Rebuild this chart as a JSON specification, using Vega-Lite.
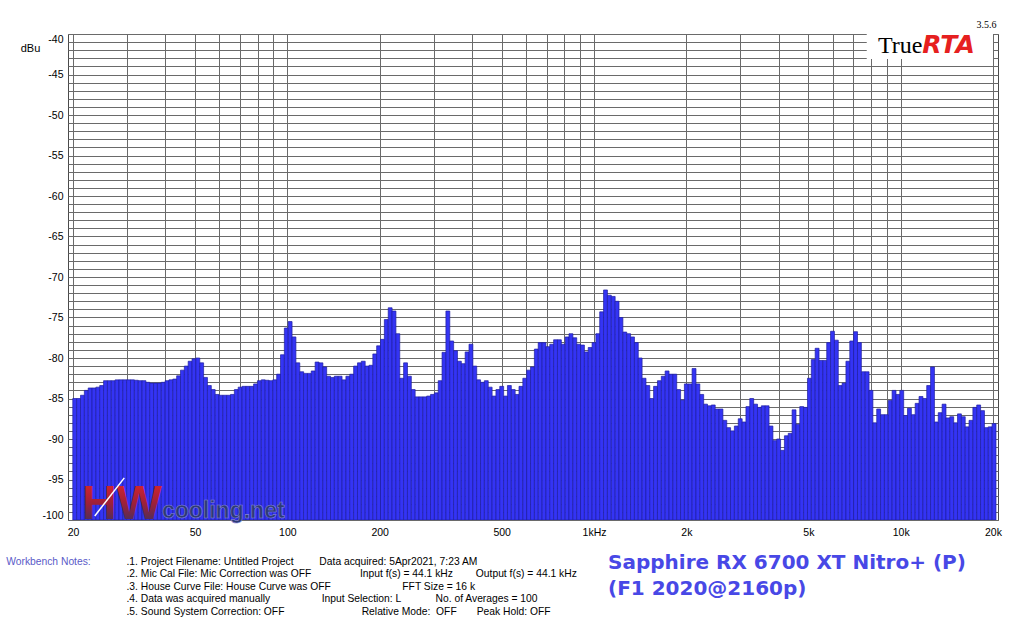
{
  "$schema": "https://vega.github.io/schema/vega-lite/v6.json",
  "width": 930,
  "height": 486,
  "autosize": {"type": "none"},
  "padding": {"left": 68, "top": 34, "right": 26, "bottom": 104},
  "background": "white",
  "data": {"values": [{}]},
  "config": {
    "view": {"stroke": "#4a4a4a", "strokeWidth": 1},
    "font": "Liberation Sans",
    "axis": {"gridColor": "#6a6a6a", "gridWidth": 1, "gridOpacity": 1, "labelFont": "Liberation Sans", "titleFont": "Liberation Sans", "labelColor": "#000000", "titleColor": "#000000", "titleFontWeight": "normal"}
  },
  "title": {
    "text": ["Sapphire RX 6700 XT Nitro+ (P)", "(F1 2020@2160p)"],
    "orient": "top",
    "anchor": "start",
    "frame": "group",
    "font": "DejaVu Sans",
    "fontSize": 20,
    "fontWeight": "bold",
    "color": "#4848e6",
    "lineHeight": 26.7,
    "baseline": "alphabetic",
    "offset": 0,
    "dx": 540,
    "dy": 596
  },
  "resolve": {"axis": {"x": "independent", "y": "independent"}},
  "layer": [
    {
      "data": {"values": [
        {"f":20.26,"db":-85.0},{"f":20.86,"db":-85.0},{"f":21.47,"db":-84.6},{"f":22.10,"db":-84.0},{"f":22.75,"db":-83.7},{"f":23.41,"db":-83.7},{"f":24.10,"db":-83.6},{"f":24.80,"db":-83.4},{"f":25.53,"db":-82.8},{"f":26.28,"db":-82.8},{"f":27.05,"db":-82.8},{"f":27.84,"db":-82.7},{"f":28.66,"db":-82.7},{"f":29.50,"db":-82.7},{"f":30.36,"db":-82.7},{"f":31.25,"db":-82.7},{"f":32.17,"db":-82.75},{"f":33.11,"db":-82.8},{"f":34.08,"db":-82.8},{"f":35.08,"db":-83.0},{"f":36.10,"db":-83.1},{"f":37.16,"db":-83.1},{"f":38.25,"db":-83.1},{"f":39.37,"db":-83.0},
        {"f":40.53,"db":-82.8},{"f":41.71,"db":-82.7},{"f":42.94,"db":-82.6},{"f":44.19,"db":-82.2},{"f":45.49,"db":-81.5},{"f":46.82,"db":-81.0},{"f":48.19,"db":-80.4},{"f":49.61,"db":-80.1},{"f":51.06,"db":-80.0},{"f":52.55,"db":-80.6},{"f":54.09,"db":-82.4},{"f":55.68,"db":-83.4},{"f":57.31,"db":-83.9},{"f":58.99,"db":-84.5},{"f":60.72,"db":-84.6},{"f":62.50,"db":-84.6},{"f":64.33,"db":-84.6},{"f":66.22,"db":-84.5},{"f":68.16,"db":-83.9},{"f":70.15,"db":-83.6},{"f":72.21,"db":-83.5},{"f":74.32,"db":-83.5},{"f":76.50,"db":-83.5},{"f":78.75,"db":-83.2},
        {"f":81.05,"db":-82.8},{"f":83.43,"db":-82.7},{"f":85.88,"db":-82.75},{"f":88.39,"db":-82.8},{"f":90.98,"db":-82.7},{"f":93.65,"db":-82.0},{"f":96.39,"db":-79.6},{"f":99.22,"db":-76.3},{"f":102.1,"db":-75.5},{"f":105.1,"db":-77.4},{"f":108.2,"db":-80.6},{"f":111.4,"db":-81.7},{"f":114.6,"db":-81.9},{"f":118.0,"db":-81.9},{"f":121.4,"db":-81.6},{"f":125.0,"db":-80.5},{"f":128.7,"db":-80.6},{"f":132.4,"db":-81.1},{"f":136.3,"db":-82.25},{"f":140.3,"db":-82.4},{"f":144.4,"db":-82.25},{"f":148.6,"db":-82.25},{"f":153.0,"db":-82.7},{"f":157.5,"db":-82.25},
        {"f":162.1,"db":-82.0},{"f":166.9,"db":-81.0},{"f":171.8,"db":-80.6},{"f":176.8,"db":-80.4},{"f":182.0,"db":-81.0},{"f":187.3,"db":-80.9},{"f":192.8,"db":-79.5},{"f":198.4,"db":-78.5},{"f":204.2,"db":-77.7},{"f":210.2,"db":-75.25},{"f":216.4,"db":-73.8},{"f":222.7,"db":-74.2},{"f":229.2,"db":-77.0},{"f":236.0,"db":-82.5},{"f":242.9,"db":-80.6},{"f":250.0,"db":-82.25},{"f":257.3,"db":-83.9},{"f":264.9,"db":-84.8},{"f":272.6,"db":-84.8},{"f":280.6,"db":-84.8},{"f":288.8,"db":-84.7},{"f":297.3,"db":-84.5},{"f":306.0,"db":-84.3},{"f":315.0,"db":-82.8},
        {"f":324.2,"db":-79.3},{"f":333.7,"db":-74.2},{"f":343.5,"db":-77.9},{"f":353.5,"db":-79.1},{"f":363.9,"db":-80.4},{"f":374.6,"db":-80.7},{"f":385.6,"db":-79.25},{"f":396.9,"db":-78.3},{"f":408.5,"db":-81.0},{"f":420.4,"db":-82.7},{"f":432.8,"db":-83.0},{"f":445.4,"db":-82.8},{"f":458.5,"db":-83.6},{"f":471.9,"db":-84.7},{"f":485.8,"db":-83.9},{"f":500.0,"db":-83.5},{"f":514.7,"db":-84.7},{"f":529.7,"db":-83.4},{"f":545.2,"db":-83.9},{"f":561.2,"db":-84.5},{"f":577.7,"db":-83.5},{"f":594.6,"db":-82.5},{"f":612.0,"db":-81.5},{"f":630.0,"db":-81.1},
        {"f":648.4,"db":-78.9},{"f":667.4,"db":-78.1},{"f":687.0,"db":-78.1},{"f":707.1,"db":-78.6},{"f":727.9,"db":-78.3},{"f":749.2,"db":-77.75},{"f":771.1,"db":-77.75},{"f":793.7,"db":-78.3},{"f":817.0,"db":-77.4},{"f":840.9,"db":-77.0},{"f":865.5,"db":-77.5},{"f":890.9,"db":-78.3},{"f":917.0,"db":-78.4},{"f":943.9,"db":-79.25},{"f":971.5,"db":-78.7},{"f":1000,"db":-78.1},{"f":1029,"db":-77.0},{"f":1059,"db":-74.3},{"f":1090,"db":-71.6},{"f":1122,"db":-72.25},{"f":1155,"db":-72.4},{"f":1189,"db":-73.0},{"f":1224,"db":-75.0},{"f":1260,"db":-76.8},
        {"f":1297,"db":-77.0},{"f":1335,"db":-77.4},{"f":1374,"db":-78.1},{"f":1414,"db":-80.0},{"f":1456,"db":-82.5},{"f":1498,"db":-83.4},{"f":1542,"db":-85.0},{"f":1587,"db":-83.5},{"f":1634,"db":-82.8},{"f":1682,"db":-82.25},{"f":1731,"db":-81.6},{"f":1782,"db":-82.0},{"f":1834,"db":-82.0},{"f":1888,"db":-83.9},{"f":1943,"db":-85.2},{"f":2000,"db":-83.2},{"f":2059,"db":-83.2},{"f":2119,"db":-81.3},{"f":2181,"db":-83.2},{"f":2245,"db":-84.5},{"f":2311,"db":-85.7},{"f":2378,"db":-85.9},{"f":2448,"db":-85.8},{"f":2520,"db":-86.3},
        {"f":2594,"db":-86.3},{"f":2670,"db":-87.7},{"f":2748,"db":-88.6},{"f":2828,"db":-89.0},{"f":2911,"db":-88.4},{"f":2997,"db":-87.5},{"f":3084,"db":-87.9},{"f":3175,"db":-86.0},{"f":3268,"db":-85.0},{"f":3364,"db":-85.7},{"f":3462,"db":-86.1},{"f":3564,"db":-85.9},{"f":3668,"db":-85.9},{"f":3776,"db":-88.4},{"f":3886,"db":-90.2},{"f":4000,"db":-90.0},{"f":4117,"db":-91.4},{"f":4238,"db":-89.6},{"f":4362,"db":-89.3},{"f":4490,"db":-86.4},{"f":4621,"db":-88.2},{"f":4757,"db":-86.0},{"f":4896,"db":-86.1},{"f":5040,"db":-82.5},
        {"f":5187,"db":-80.2},{"f":5339,"db":-78.8},{"f":5496,"db":-80.3},{"f":5657,"db":-80.3},{"f":5823,"db":-78.1},{"f":5993,"db":-76.7},{"f":6169,"db":-77.8},{"f":6350,"db":-83.4},{"f":6536,"db":-83.1},{"f":6727,"db":-80.4},{"f":6924,"db":-77.9},{"f":7127,"db":-76.75},{"f":7336,"db":-78.1},{"f":7551,"db":-81.7},{"f":7772,"db":-81.7},{"f":8000,"db":-84.0},{"f":8235,"db":-88.0},{"f":8476,"db":-86.3},{"f":8724,"db":-87.0},{"f":8980,"db":-87.0},{"f":9243,"db":-85.25},{"f":9514,"db":-84.0},{"f":9793,"db":-84.5},{"f":10080,"db":-84.0},
        {"f":10375,"db":-87.1},{"f":10679,"db":-86.2},{"f":10992,"db":-87.0},{"f":11314,"db":-85.6},{"f":11646,"db":-84.75},{"f":11987,"db":-85.0},{"f":12338,"db":-83.4},{"f":12699,"db":-81.1},{"f":13071,"db":-87.9},{"f":13454,"db":-86.75},{"f":13849,"db":-85.7},{"f":14254,"db":-87.4},{"f":14672,"db":-87.25},{"f":15102,"db":-88.0},{"f":15545,"db":-86.9},{"f":16000,"db":-87.25},{"f":16469,"db":-88.5},{"f":16951,"db":-87.7},{"f":17448,"db":-86.1},{"f":17959,"db":-85.8},{"f":18486,"db":-86.5},{"f":19027,"db":-88.6},{"f":19585,"db":-88.5},{"f":20159,"db":-88.1}
      ]},
      "mark": {"type": "bar", "width": 3.88, "fill": "#3434f4", "stroke": "#1e1ea0", "strokeWidth": 0.7, "clip": true},
      "encoding": {
        "x": {
          "field": "f", "type": "quantitative",
          "scale": {"type": "log", "domain": [20, 20000], "nice": false},
          "axis": {
            "orient": "bottom",
            "values": [20,30,40,50,60,70,80,90,100,200,300,400,500,600,700,800,900,1000,2000,3000,4000,5000,6000,7000,8000,9000,10000,20000],
            "labelExpr": "indexof([20,50,100,200,500,1000,2000,5000,10000,20000], datum.value) >= 0 ? (datum.value == 1000 ? '1kHz' : (datum.value >= 2000 ? (datum.value / 1000) + 'k' : datum.value + '')) : ''",
            "grid": true, "ticks": false, "domain": false,
            "labelFontSize": 10.5, "labelPadding": 7, "labelOverlap": false, "labelFlush": false, "labelBound": false,
            "title": [
              ".1. Project Filename: Untitled Project\u00a0\u00a0\u00a0\u00a0\u00a0\u00a0\u00a0\u00a0\u00a0Data acquired: 5Apr2021, 7:23 AM",
              ".2. Mic Cal File: Mic Correction was OFF\u00a0\u00a0\u00a0\u00a0\u00a0\u00a0\u00a0\u00a0\u00a0\u00a0\u00a0\u00a0\u00a0\u00a0\u00a0\u00a0\u00a0Input f(s) = 44.1 kHz\u00a0\u00a0\u00a0\u00a0\u00a0\u00a0\u00a0\u00a0Output f(s) = 44.1 kHz",
              ".3. House Curve File: House Curve was OFF\u00a0\u00a0\u00a0\u00a0\u00a0\u00a0\u00a0\u00a0\u00a0\u00a0\u00a0\u00a0\u00a0\u00a0\u00a0\u00a0\u00a0\u00a0\u00a0\u00a0\u00a0\u00a0\u00a0\u00a0\u00a0FFT Size = 16 k",
              ".4. Data was acquired manually\u00a0\u00a0\u00a0\u00a0\u00a0\u00a0\u00a0\u00a0\u00a0\u00a0\u00a0\u00a0\u00a0\u00a0\u00a0\u00a0\u00a0\u00a0Input Selection: L\u00a0\u00a0\u00a0\u00a0\u00a0\u00a0\u00a0\u00a0\u00a0\u00a0\u00a0\u00a0No. of Averages = 100",
              ".5. Sound System Correction: OFF\u00a0\u00a0\u00a0\u00a0\u00a0\u00a0\u00a0\u00a0\u00a0\u00a0\u00a0\u00a0\u00a0\u00a0\u00a0\u00a0\u00a0\u00a0\u00a0\u00a0\u00a0\u00a0\u00a0\u00a0\u00a0\u00a0\u00a0Relative Mode:\u00a0\u00a0OFF\u00a0\u00a0\u00a0\u00a0\u00a0\u00a0\u00a0Peak Hold: OFF"
            ],
            "titleX": 58, "titleY": 44, "titleAlign": "left", "titleBaseline": "alphabetic", "titleAngle": 0,
            "titleFontSize": 10.3, "titleLineHeight": 12.5
          }
        },
        "y": {
          "field": "db", "type": "quantitative",
          "scale": {"domain": [-100, -40], "nice": false, "zero": false},
          "axis": {
            "orient": "left",
            "values": [-100,-99,-98,-97,-96,-95,-94,-93,-92,-91,-90,-89,-88,-87,-86,-85,-84,-83,-82,-81,-80,-79,-78,-77,-76,-75,-74,-73,-72,-71,-70,-69,-68,-67,-66,-65,-64,-63,-62,-61,-60,-59,-58,-57,-56,-55,-54,-53,-52,-51,-50,-49,-48,-47,-46,-45,-44,-43,-42,-41,-40],
            "labelExpr": "datum.value % 5 == 0 ? datum.value + '' : ''",
            "grid": true, "ticks": false, "domain": false,
            "labelFontSize": 10.5, "labelPadding": 5, "labelFlush": true, "labelOverlap": false,
            "title": "dBu", "titleAngle": 0, "titleX": -38, "titleY": 14, "titleAlign": "center", "titleBaseline": "middle", "titleFontSize": 11
          }
        },
        "y2": {"datum": -100}
      }
    },
    {
      "mark": {"type": "rect", "fill": "#ffffff"},
      "encoding": {
        "x": {"datum": 7750, "type": "quantitative", "axis": {
          "orient": "top", "labels": false, "ticks": false, "domain": false, "grid": false,
          "title": "Workbench Notes:", "titleX": -62.3, "titleY": 530, "titleAlign": "left", "titleBaseline": "alphabetic", "titleAngle": 0,
          "titleColor": "#5a5ac8", "titleFontSize": 10.3
        }},
        "x2": {"datum": 20000},
        "y": {"datum": -40, "type": "quantitative", "axis": {
          "orient": "right", "labels": false, "ticks": false, "domain": false, "grid": false,
          "title": "3.5.6", "titleX": -2, "titleY": -6.5, "titleAlign": "right", "titleBaseline": "alphabetic", "titleAngle": 0,
          "titleFont": "Liberation Serif", "titleFontSize": 10
        }},
        "y2": {"datum": -43.1}
      }
    },
    {
      "mark": {"type": "text", "text": "True", "font": "Liberation Serif", "fontSize": 24, "align": "left", "baseline": "alphabetic", "fill": "#000000"},
      "encoding": {
        "x": {"datum": 8430, "type": "quantitative", "axis": null},
        "y": {"datum": -42.38, "type": "quantitative", "axis": null}
      }
    },
    {
      "mark": {"type": "text", "text": "RTA", "font": "DejaVu Sans", "fontSize": 25, "fontWeight": "bold", "fontStyle": "italic", "align": "left", "baseline": "alphabetic", "fill": "#e62020"},
      "encoding": {
        "x": {"datum": 11750, "type": "quantitative", "axis": null},
        "y": {"datum": -42.3, "type": "quantitative", "axis": null}
      }
    },
    {
      "mark": {"type": "text", "text": "HW", "font": "Liberation Sans", "fontSize": 48, "fontWeight": "bold", "align": "left", "baseline": "alphabetic",
        "fill": {"gradient": "linear", "x1": 0, "y1": 0, "x2": 0, "y2": 1, "stops": [{"offset": 0, "color": "#e8262a"}, {"offset": 0.5, "color": "#a02038"}, {"offset": 1, "color": "#2a3468"}]}},
      "encoding": {
        "x": {"datum": 21.38, "type": "quantitative", "axis": null},
        "y": {"datum": -99.88, "type": "quantitative", "axis": null}
      }
    },
    {
      "mark": {"type": "rule", "color": "#ffffff", "strokeWidth": 1.5},
      "encoding": {
        "x": {"datum": 23.55, "type": "quantitative", "axis": null},
        "x2": {"datum": 29.4},
        "y": {"datum": -99.5, "type": "quantitative", "axis": null},
        "y2": {"datum": -94.8}
      }
    },
    {
      "mark": {"type": "text", "text": "cooling.net", "font": "Liberation Sans", "fontSize": 23, "fontWeight": "bold", "align": "left", "baseline": "alphabetic", "fill": "#2e3b74", "stroke": "#8585d8", "strokeWidth": 0.6},
      "encoding": {
        "x": {"datum": 39.0, "type": "quantitative", "axis": null},
        "y": {"datum": -99.79, "type": "quantitative", "axis": null}
      }
    }
  ]
}
